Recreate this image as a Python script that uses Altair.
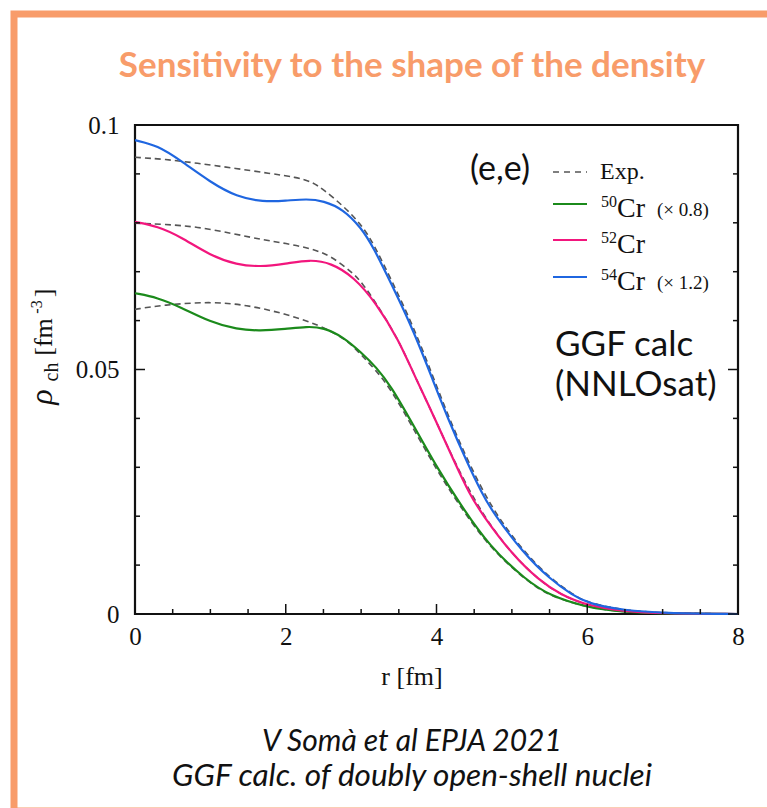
import altair as alt
import pandas as pd

# ---------------- data ----------------
series_names = ["50Cr", "52Cr", "54Cr"]
series_colors = ["#1B8A1B", "#F2167D", "#1F66E0"]

r_50 = [0, 0.3, 0.6, 1.0, 1.35, 1.66, 2.0, 2.28, 2.5, 2.76, 3.0, 3.2, 3.4, 3.65, 4.0, 4.3, 4.7, 5.2, 5.5, 6.0, 6.5, 7.0, 8.0]
rho_50 = [0.0656, 0.0647, 0.0628, 0.0597, 0.0582, 0.0579, 0.0583, 0.0588, 0.0586, 0.0567, 0.0535, 0.0505,
          0.0465, 0.0398, 0.0301, 0.0228, 0.0138, 0.0068, 0.0038, 0.0013, 0.0004, 0.0001, 0.0]

r_52 = [0, 0.3, 0.6, 1.0, 1.35, 1.66, 2.0, 2.32, 2.6, 2.9, 3.2, 3.5, 3.7, 4.0, 4.24, 4.44, 4.6, 5.0, 5.37, 5.64, 6.0, 6.5, 7.0, 8.0]
rho_52 = [0.0802, 0.0793, 0.0772, 0.0733, 0.0714, 0.0710, 0.0716, 0.0725, 0.0718, 0.0690, 0.0636, 0.0560,
          0.0490, 0.0393, 0.0310, 0.0245, 0.0205, 0.0122, 0.0068, 0.0040, 0.0017, 0.0005, 0.0001, 0.0]

r_54 = [0, 0.3, 0.6, 1.0, 1.35, 1.7, 2.0, 2.28, 2.5, 2.76, 3.0, 3.16, 3.42, 3.69, 3.95, 4.15, 4.42, 4.6, 4.75,
        5.15, 5.5, 5.81, 6.0, 6.5, 7.0, 8.0]
rho_54 = [0.0969, 0.0958, 0.0928, 0.0883, 0.0853, 0.0843, 0.0845, 0.0849, 0.0845, 0.0828, 0.0790, 0.0751,
          0.0669, 0.0581, 0.0479, 0.0400, 0.0305, 0.0248, 0.0207, 0.0125, 0.0072, 0.0038, 0.0022, 0.0007, 0.0002, 0.0]

r_exp50 = [0, 0.37, 1.0, 1.48, 1.97, 2.45, 2.81, 3.0, 3.2, 3.4, 3.65, 4.0, 4.3, 4.7, 5.2, 5.5, 6.0, 6.5, 7.0, 8.0]
rho_exp50 = [0.0623, 0.0632, 0.0639, 0.0632, 0.0615, 0.0591, 0.0561, 0.0530, 0.0498, 0.0458, 0.0391, 0.0295,
             0.0223, 0.0136, 0.0067, 0.0037, 0.0013, 0.0004, 0.0001, 0.0]

r_exp52 = [0, 0.4, 0.82, 1.3, 1.7, 2.0, 2.32, 2.6, 2.89, 3.0, 3.2, 3.5, 3.7, 4.0, 4.24, 4.6, 5.0, 5.37, 5.64, 6.0, 6.5, 7.0, 8.0]
rho_exp52 = [0.0799, 0.0797, 0.0792, 0.0778, 0.0765, 0.0758, 0.0748, 0.0733, 0.0697, 0.0680, 0.0636, 0.0560,
             0.0490, 0.0393, 0.0310, 0.0205, 0.0122, 0.0068, 0.0040, 0.0017, 0.0005, 0.0001, 0.0]

r_exp54 = [0, 0.4, 0.82, 1.3, 1.79, 2.14, 2.35, 2.5, 2.76, 3.0, 3.16, 3.42, 3.69, 3.95, 4.15, 4.42, 4.75, 5.15,
           5.5, 5.81, 6.0, 6.5, 7.0, 8.0]
rho_exp54 = [0.0934, 0.0930, 0.0922, 0.0912, 0.0901, 0.0893, 0.0884, 0.0868, 0.0835, 0.0797, 0.0759, 0.0677,
             0.0589, 0.0487, 0.0407, 0.0311, 0.0211, 0.0129, 0.0074, 0.0040, 0.0023, 0.0007, 0.0002, 0.0]

x_major = [0, 2, 4, 6, 8]
x_minor = [0.5, 1, 1.5, 2.5, 3, 3.5, 4.5, 5, 5.5, 6.5, 7, 7.5]
y_major = [0, 0.05, 0.1]
y_minor = [0.01, 0.02, 0.03, 0.04, 0.06, 0.07, 0.08, 0.09]

legend_sup = ["50", "52", "54"]
legend_note = ["(× 0.8)", "", "(× 1.2)"]

# ---------------- tables ----------------
def table(name, r, rho):
    return pd.DataFrame({"series": name, "r": r, "rho": rho})

theory = pd.concat([table("50Cr", r_50, rho_50), table("52Cr", r_52, rho_52), table("54Cr", r_54, rho_54)])
exp = pd.concat([table("50Cr", r_exp50, rho_exp50), table("52Cr", r_exp52, rho_exp52),
                 table("54Cr", r_exp54, rho_exp54)])

W, H = 603, 489
ORANGE = "#F89C6A"
one = pd.DataFrame({"k": [0]})

xs = alt.Scale(domain=[0, 8], nice=False, zero=False)
ys = alt.Scale(domain=[0, 0.1], nice=False, zero=False)
XAX = alt.Axis(values=x_major, ticks=False, domain=False, grid=False, labelFont="Liberation Serif",
               labelFontSize=25, labelColor="#111", labelPadding=10, labelFlush=False, title="")
YAX = alt.Axis(values=y_major, format="~g", ticks=False, domain=False, grid=False, labelFont="Liberation Serif",
               labelFontSize=25, labelColor="#111", labelPadding=16, labelFlush=False, title="")

theory_lines = alt.Chart(theory).mark_line(strokeWidth=2.2, interpolate="basis").encode(
    x=alt.X("r:Q", scale=xs, axis=XAX),
    y=alt.Y("rho:Q", scale=ys, axis=YAX),
    color=alt.Color("series:N", scale=alt.Scale(domain=series_names, range=series_colors), legend=None),
)

exp_lines = alt.Chart(exp).mark_line(strokeWidth=1.6, strokeDash=[6, 4], color="#555555",
                                     interpolate="basis").encode(
    x=alt.X("r:Q", scale=xs, axis=XAX), y=alt.Y("rho:Q", scale=ys, axis=YAX), detail="series:N")

def xticks(vals, length):
    return alt.Chart(pd.DataFrame({"r": vals})).mark_rule(color="#111", strokeWidth=1.5).encode(
        x=alt.X("r:Q", scale=xs, axis=XAX), y=alt.value(H), y2=alt.value(H - length))

def yticks(vals, length):
    d = pd.DataFrame({"rho": vals})
    left = alt.Chart(d).mark_rule(color="#111", strokeWidth=1.5).encode(
        y=alt.Y("rho:Q", scale=ys, axis=YAX), x=alt.value(0), x2=alt.value(length))
    right = alt.Chart(d).mark_rule(color="#111", strokeWidth=1.5).encode(
        y=alt.Y("rho:Q", scale=ys, axis=YAX), x=alt.value(W), x2=alt.value(W - length))
    return [left, right]

def txt(text, x, y, size, font="Lato", color="#111", align="left", baseline="middle", **kw):
    return alt.Chart(one).mark_text(text=text, font=font, fontSize=size, color=color, align=align,
                                    baseline=baseline, **kw).encode(x=alt.value(x), y=alt.value(y))

def hline(x1, x2, y, color, width=2.2, dash=None):
    kw = dict(color=color, strokeWidth=width)
    if dash:
        kw["strokeDash"] = dash
    return alt.Chart(one).mark_rule(**kw).encode(x=alt.value(x1), x2=alt.value(x2), y=alt.value(y))

border = alt.Chart(one).mark_rect(fillOpacity=0, stroke=ORANGE, strokeWidth=7).encode(
    x=alt.value(-121), x2=alt.value(700), y=alt.value(-111), y2=alt.value(686))

layers = [border, exp_lines, theory_lines, xticks(x_major, 10), xticks(x_minor, 5)]
layers += yticks(y_major, 10) + yticks(y_minor, 5)

# title & footer
layers.append(txt("Sensitivity to the shape of the density", 277, -59, 35, color=ORANGE, align="center",
                  fontWeight="bold"))
layers.append(txt("V Somà et al EPJA 2021", 277, 617, 30, align="center", fontStyle="italic"))
layers.append(txt("GGF calc. of doubly open-shell nuclei", 277, 652, 31.5, align="center", fontStyle="italic"))

# axis titles
layers.append(txt("r [fm]", 277, 552, 26, font="Liberation Serif", align="center"))
layers.append(txt("ρ", -83, 272, 32, font="Liberation Serif", align="center", baseline="alphabetic",
                  angle=270, fontStyle="italic"))
layers.append(txt("ch", -77, 247, 20, font="Liberation Serif", align="center", baseline="alphabetic", angle=270))
layers.append(txt("[fm", -83, 212, 26, font="Liberation Serif", align="center", baseline="alphabetic", angle=270))
layers.append(txt("-3", -93, 182, 16, font="Liberation Serif", align="center", baseline="alphabetic", angle=270))
layers.append(txt("]", -83, 168, 26, font="Liberation Serif", align="center", baseline="alphabetic", angle=270))

# annotations
layers.append(txt("(e,e)", 365, 45, 34, align="center"))
layers.append(txt("GGF calc", 420, 220, 35))
layers.append(txt("(NNLOsat)", 420, 260, 35))

# legend
rows = [79, 115, 152]
layers.append(hline(418, 452, 47, "#555555", width=1.5, dash=[6, 5]))
layers.append(txt("Exp.", 465, 54, 24, font="Liberation Serif", baseline="alphabetic"))
for i, yy in enumerate(rows):
    layers.append(hline(418, 452, yy, series_colors[i]))
    layers.append(txt(legend_sup[i], 466, yy + 3, 16, font="Liberation Serif", baseline="alphabetic"))
    layers.append(txt("Cr", 482, yy + 13, 28, font="Liberation Serif", baseline="alphabetic"))
    if legend_note[i]:
        layers.append(txt(legend_note[i], 522, yy + 12, 19, font="Liberation Serif", baseline="alphabetic"))

chart = alt.layer(*layers).properties(
    width=W, height=H, autosize="none",
    padding={"left": 135, "top": 125, "right": 29, "bottom": 194},
    background="white",
).configure_view(stroke="#111", strokeWidth=2.2)

chart.save("out.html", embed_options={"renderer": "svg", "actions": False})
